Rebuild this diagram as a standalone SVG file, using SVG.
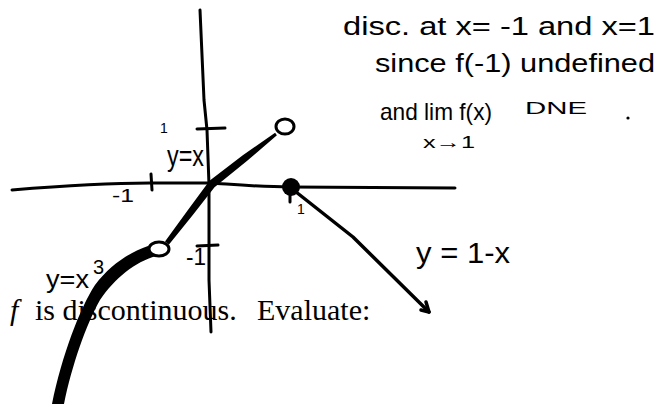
<svg xmlns="http://www.w3.org/2000/svg" width="657" height="404" viewBox="0 0 657 404">
<style>
.ax{fill:none;stroke:#000;stroke-width:3;stroke-linecap:round;stroke-linejoin:round}
.ln{fill:none;stroke:#000;stroke-width:3.5;stroke-linecap:round;stroke-linejoin:round}
.hw{font-family:"Liberation Sans","DejaVu Sans",sans-serif;fill:#000}
.tx{font-family:"Liberation Serif","DejaVu Serif",serif;fill:#000;font-size:30px}
.open{fill:#fff;stroke:#000;stroke-width:3}
</style>
<rect width="657" height="404" fill="#fff"/>
<g id="statement">
<text class="tx" y="320"><tspan x="10" font-style="italic">f</tspan><tspan x="35">is discontinuous.</tspan><tspan x="257">Evaluate:</tspan></text>
</g>
<g id="axes">
<path class="ax" d="M 200,10 L 204,100 L 207,130 L 209,185 L 209,280 L 211,332"/>
<path class="ax" d="M 12,190 C 60,186 110,183 150,183 L 210,183 C 240,185 262,187 290,187 L 455,188"/>
<path class="ax" d="M 151,174 L 152,190"/>
<path class="ax" d="M 197,129 L 225,128"/>
<path class="ax" d="M 197,246 L 218,245"/>
<path class="ax" d="M 290,194 L 290,202"/>
</g>
<g id="axis-labels">
<text class="hw" x="112" y="202" font-size="18" textLength="22" lengthAdjust="spacingAndGlyphs">-1</text>
<text class="hw" x="186" y="265" font-size="24" textLength="20" lengthAdjust="spacingAndGlyphs">-1</text>
<text class="hw" x="160" y="133" font-size="14">1</text>
<text class="hw" x="297" y="214" font-size="14">1</text>
</g>
<g id="graph-cubic">
<path fill="#000" d="M 148,246 C 130,252 110,265 95,285 C 80,308 62,355 52,404 L 64,404 C 72,365 86,325 100,300 C 115,278 135,262 156,256 Z"/>
<text class="hw" x="46" y="288" font-size="26" textLength="43" lengthAdjust="spacingAndGlyphs">y=x</text>
<text class="hw" x="93" y="274" font-size="20">3</text>
</g>
<g id="graph-identity">
<polygon fill="#000" points="275.1,132.8 242.8,155.2 209.5,180.8 187.2,210.9 165,241.5 169,244.5 192.8,215.1 214.5,187.2 247.2,160.8 276.9,135.2"/>
<ellipse class="open" cx="285" cy="126.5" rx="9" ry="7.5"/>
<ellipse class="open" cx="159" cy="249" rx="10" ry="7"/>
<text class="hw" x="167" y="166" font-size="30" textLength="37" lengthAdjust="spacingAndGlyphs">y=x</text>
</g>
<g id="graph-linear">
<circle cx="291" cy="187" r="9" fill="#000"/>
<path class="ln" d="M 291,188 L 353,237 L 429,312"/>
<path class="ln" d="M 426,302 L 429,312 L 421,310"/>
<text class="hw" x="416" y="263" font-size="30" textLength="94" lengthAdjust="spacingAndGlyphs">y = 1-x</text>
</g>
<g id="note">
<text class="hw" x="343" y="35" font-size="25" textLength="312" lengthAdjust="spacingAndGlyphs">disc. at x= -1 and x=1</text>
<text class="hw" x="375" y="72" font-size="25" textLength="280" lengthAdjust="spacingAndGlyphs">since f(-1) undefined</text>
<text class="hw" x="380" y="120" font-size="24" textLength="112" lengthAdjust="spacingAndGlyphs">and lim f(x)</text>
<text class="hw" x="525" y="114" font-size="17" textLength="62" lengthAdjust="spacingAndGlyphs">DNE</text>
<circle cx="628" cy="118" r="1.6" fill="#000"/>
<text class="hw" x="423" y="148" font-size="17" textLength="52" lengthAdjust="spacingAndGlyphs">x→1</text>
</g>
</svg>
